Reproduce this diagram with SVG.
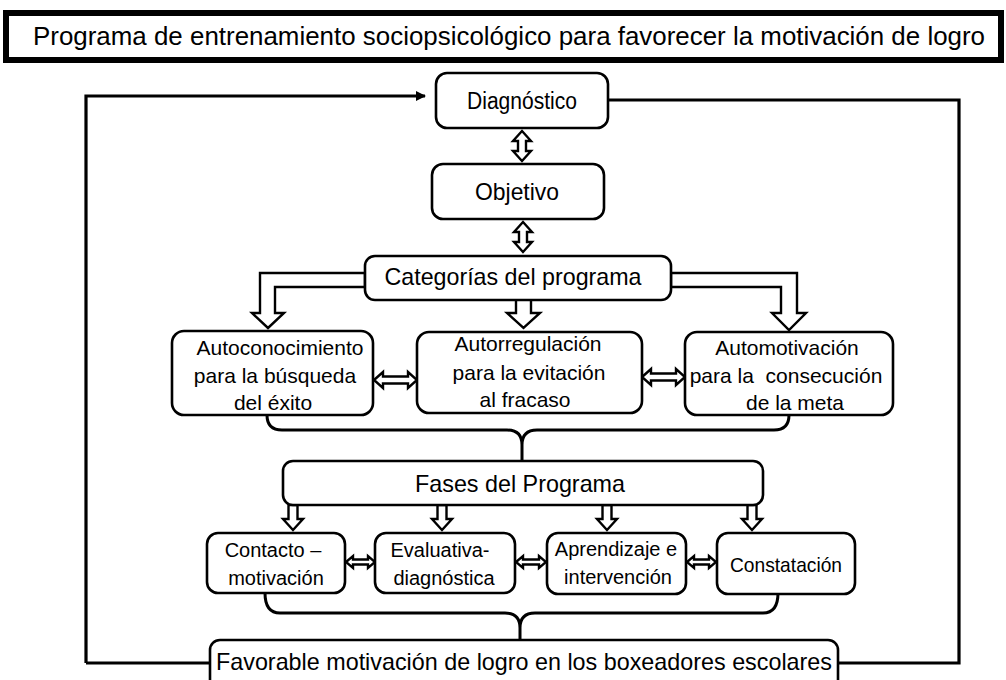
<svg xmlns="http://www.w3.org/2000/svg" width="1006" height="680" viewBox="0 0 1006 680">
<defs>
<style>
.box{fill:#fff;stroke:#000;stroke-width:2.6}
.t{font-family:"Liberation Sans",Arial,sans-serif;fill:#000;text-anchor:middle}
.hollow{fill:#fff;stroke:#000;stroke-width:2.4;stroke-linejoin:miter}
.line{fill:none;stroke:#000;stroke-width:3.2}
.brace{fill:none;stroke:#000;stroke-width:3}
</style>
<marker id="ah" markerWidth="10" markerHeight="10" refX="9" refY="5" orient="auto" markerUnits="userSpaceOnUse" viewBox="0 0 10 10">
<path d="M0,0 L10,5 L0,10 z" fill="#000"/>
</marker>
</defs>
<rect width="1006" height="680" fill="#fff"/>
<g id="title">
<rect x="6" y="13" width="995" height="47" fill="#fff" stroke="#000" stroke-width="6"/>
<text class="t" x="509" y="45" font-size="25" textLength="952" lengthAdjust="spacingAndGlyphs">Programa de entrenamiento sociopsicológico para favorecer la motivación de logro</text>
</g>
<g id="connectors">
<path class="line" d="M86,663 V96 H425" marker-end="url(#ah)"/>
<path class="line" d="M608,100 H959 V663 H838"/>
<path class="line" d="M210,663 H86"/>
<polygon class="hollow" points="522,131 531,141 526,141 526,151 531,151 522,161 513,151 518,151 518,141 513,141"/>
<polygon class="hollow" points="523,222 532,232 527,232 527,242 532,242 523,252 514,242 519,242 519,232 514,232"/>
<polygon class="hollow" points="365,273 260,273 260,313 252,313 268,328 284,313 275,313 275,287 365,287"/>
<polygon class="hollow" points="516,299 516,313 507,313 523.5,328 540,313 531,313 531,299"/>
<polygon class="hollow" points="671,273 797,273 797,313 806,313 789,330 772,313 781,313 781,287 671,287"/>
<polygon class="hollow" points="374,380 383,372 383,376.5 408,376.5 408,372 417,380 408,388 408,383.5 383,383.5 383,388"/>
<polygon class="hollow" points="642,377 651,369 651,373.5 676,373.5 676,369 685,377 676,385 676,380.5 651,380.5 651,385"/>
<path class="brace" d="M267,415 Q267,430 282,430 H507 Q522,430 522,445 V461 M789,415 Q789,430 774,430 H537 Q522,430 522,445"/>
<polygon class="hollow" points="288.5,505 297.5,505 297.5,519 303,519 293,530 283,519 288.5,519"/>
<polygon class="hollow" points="437.5,505 446.5,505 446.5,519 452,519 442,530 432,519 437.5,519"/>
<polygon class="hollow" points="602.5,505 611.5,505 611.5,519 617,519 607,530 597,519 602.5,519"/>
<polygon class="hollow" points="747.5,505 756.5,505 756.5,519 762,519 752,530 742,519 747.5,519"/>
<polygon class="hollow" points="346,562 353,556 353,559.5 368,559.5 368,556 375,562 368,568 368,564.5 353,564.5 353,568"/>
<polygon class="hollow" points="516,562 523,556 523,559.5 539,559.5 539,556 546,562 539,568 539,564.5 523,564.5 523,568"/>
<polygon class="hollow" points="687,562 694,556 694,559.5 709,559.5 709,556 716,562 709,568 709,564.5 694,564.5 694,568"/>
<path class="brace" d="M265,593 Q265,613 280,613 H505 Q520,613 520,628 V640 M778,593 Q778,613 763,613 H535 Q520,613 520,628"/>
</g>
<g id="diagnostico">
<rect class="box" x="436" y="73" width="172" height="55" rx="11"/>
<text class="t" x="522" y="109" font-size="23" textLength="110" lengthAdjust="spacingAndGlyphs">Diagnóstico</text>
</g>
<g id="objetivo">
<rect class="box" x="432" y="164" width="172" height="55" rx="11"/>
<text class="t" x="517" y="200" font-size="24" textLength="84" lengthAdjust="spacingAndGlyphs">Objetivo</text>
</g>
<g id="categorias">
<rect class="box" x="365" y="256" width="306" height="44" rx="10"/>
<text class="t" x="513" y="285" font-size="24" textLength="257" lengthAdjust="spacingAndGlyphs">Categorías del programa</text>
</g>
<g id="autoconocimiento">
<rect class="box" x="172" y="331" width="201" height="84" rx="12"/>
<text class="t" font-size="21"><tspan x="280" y="355">Autoconocimiento</tspan><tspan x="275" y="383">para la búsqueda</tspan><tspan x="273" y="410">del éxito</tspan></text>
</g>
<g id="autorregulacion">
<rect class="box" x="417" y="332" width="225" height="81" rx="12"/>
<text class="t" font-size="21"><tspan x="528" y="351">Autorregulación</tspan><tspan x="529" y="380">para la evitación</tspan><tspan x="525" y="407">al fracaso</tspan></text>
</g>
<g id="automotivacion">
<rect class="box" x="685" y="332" width="208" height="83" rx="12"/>
<text class="t" font-size="21" xml:space="preserve"><tspan x="787" y="355">Automotivación</tspan><tspan x="786" y="383">para la  consecución</tspan><tspan x="795" y="410">de la meta</tspan></text>
</g>
<g id="fases">
<rect class="box" x="283" y="461" width="480" height="44" rx="10"/>
<text class="t" x="520" y="492" font-size="24" textLength="210" lengthAdjust="spacingAndGlyphs">Fases del Programa</text>
</g>
<g id="contacto">
<rect class="box" x="207" y="533" width="138" height="60" rx="11"/>
<text class="t" font-size="20"><tspan x="273" y="557">Contacto –</tspan><tspan x="276" y="585">motivación</tspan></text>
</g>
<g id="evaluativa">
<rect class="box" x="375" y="533" width="140" height="60" rx="11"/>
<text class="t" font-size="20"><tspan x="440" y="557">Evaluativa-</tspan><tspan x="444" y="585">diagnóstica</tspan></text>
</g>
<g id="aprendizaje">
<rect class="box" x="547" y="533" width="139" height="61" rx="11"/>
<text class="t" font-size="20"><tspan x="616" y="556">Aprendizaje e</tspan><tspan x="618" y="584">intervención</tspan></text>
</g>
<g id="constatacion">
<rect class="box" x="717" y="533" width="138" height="61" rx="11"/>
<text class="t" x="786" y="572" font-size="21" textLength="112" lengthAdjust="spacingAndGlyphs">Constatación</text>
</g>
<g id="favorable">
<rect class="box" x="210" y="640" width="628" height="60" rx="10"/>
<text class="t" x="524" y="670" font-size="24" textLength="616" lengthAdjust="spacingAndGlyphs">Favorable motivación de logro en los boxeadores escolares</text>
</g>
</svg>
